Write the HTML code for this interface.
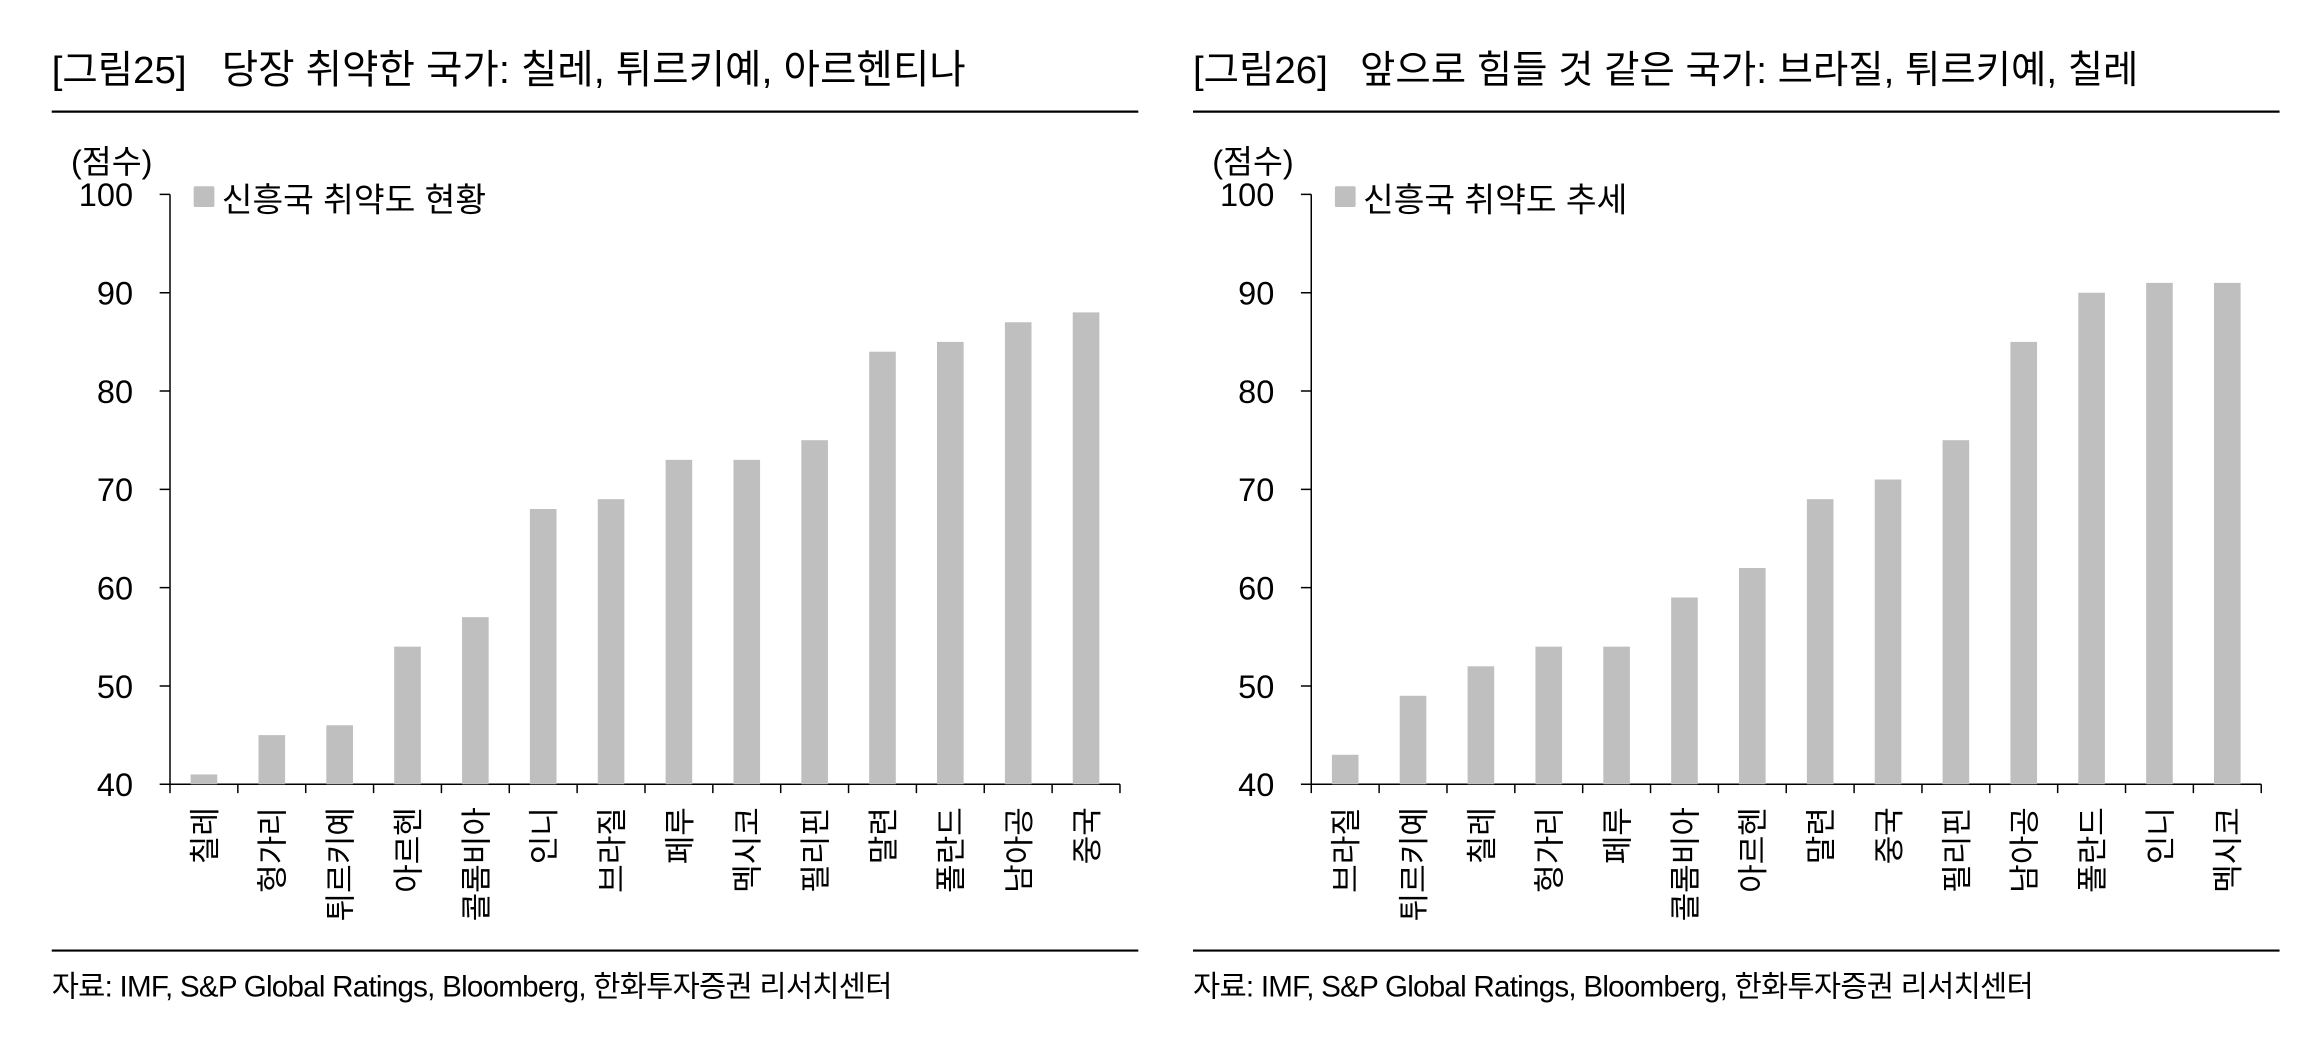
<!DOCTYPE html>
<html><head><meta charset="utf-8"><style>
html,body{margin:0;padding:0;background:#fff;}
svg{display:block;}
text{font-family:"Liberation Sans","Noto Sans CJK KR",sans-serif;fill:#000;}
.t{font-size:22px;text-anchor:end;}
.c{font-size:21px;text-anchor:end;}
</style></head><body>
<svg width="2318" height="1056" viewBox="0 0 1568 714.3" xmlns="http://www.w3.org/2000/svg">
<defs>
<g id="frame">
 <line x1="35" y1="75.5" x2="770" y2="75.5" stroke="#000" stroke-width="1.5"/>
 <text x="48" y="117" font-size="22">(점수)</text>
 <path d="M108 530.5H115M108 464H115M108 397.5H115M108 331H115M108 264.5H115M108 198H115M108 131.5H115M115 131.5V530.5H757.6M115 530.5v6M160.9 530.5v6M206.8 530.5v6M252.7 530.5v6M298.6 530.5v6M344.5 530.5v6M390.4 530.5v6M436.3 530.5v6M482.2 530.5v6M528.1 530.5v6M574 530.5v6M619.9 530.5v6M665.8 530.5v6M711.7 530.5v6M757.6 530.5v6" stroke="#000" stroke-width="1" fill="none"/>
 <text class="t" x="90" y="538.5">40</text>
 <text class="t" x="90" y="472">50</text>
 <text class="t" x="90" y="405.5">60</text>
 <text class="t" x="90" y="339">70</text>
 <text class="t" x="90" y="272.5">80</text>
 <text class="t" x="90" y="206">90</text>
 <text class="t" x="90" y="139.5">100</text>
 <rect x="131" y="126" width="14" height="14" rx="1" fill="#bfbfbf"/>
 <line x1="35" y1="643" x2="770" y2="643" stroke="#000" stroke-width="1.5"/>
 <text x="35" y="674" font-size="20" letter-spacing="-0.5">자료: IMF, S&amp;P Global Ratings, Bloomberg, 한화투자증권 리서치센터</text>
</g>
</defs>

<use href="#frame"/>
<text x="35" y="56" font-size="26">[그림25]</text>
<text x="150" y="56" font-size="26.8">당장 취약한 국가: 칠레, 튀르키예, 아르헨티나</text>
<text x="150" y="143" font-size="22.6">신흥국 취약도 현황</text>
<g fill="#bfbfbf">
<rect x="128.95" y="523.85" width="18" height="6.65"/>
<rect x="174.85" y="497.25" width="18" height="33.25"/>
<rect x="220.75" y="490.6" width="18" height="39.9"/>
<rect x="266.65" y="437.4" width="18" height="93.1"/>
<rect x="312.55" y="417.45" width="18" height="113.05"/>
<rect x="358.45" y="344.3" width="18" height="186.2"/>
<rect x="404.35" y="337.65" width="18" height="192.85"/>
<rect x="450.25" y="311.05" width="18" height="219.45"/>
<rect x="496.15" y="311.05" width="18" height="219.45"/>
<rect x="542.05" y="297.75" width="18" height="232.75"/>
<rect x="587.95" y="237.9" width="18" height="292.6"/>
<rect x="633.85" y="231.25" width="18" height="299.25"/>
<rect x="679.75" y="217.95" width="18" height="312.55"/>
<rect x="725.65" y="211.3" width="18" height="319.2"/>
</g>
<text class="c" transform="translate(146,546) rotate(-90)">칠레</text>
<text class="c" transform="translate(191.9,546) rotate(-90)">헝가리</text>
<text class="c" transform="translate(237.8,546) rotate(-90)">튀르키예</text>
<text class="c" transform="translate(283.7,546) rotate(-90)">아르헨</text>
<text class="c" transform="translate(329.6,546) rotate(-90)">콜롬비아</text>
<text class="c" transform="translate(375.5,546) rotate(-90)">인니</text>
<text class="c" transform="translate(421.4,546) rotate(-90)">브라질</text>
<text class="c" transform="translate(467.3,546) rotate(-90)">페루</text>
<text class="c" transform="translate(513.2,546) rotate(-90)">멕시코</text>
<text class="c" transform="translate(559.1,546) rotate(-90)">필리핀</text>
<text class="c" transform="translate(605,546) rotate(-90)">말련</text>
<text class="c" transform="translate(650.9,546) rotate(-90)">폴란드</text>
<text class="c" transform="translate(696.8,546) rotate(-90)">남아공</text>
<text class="c" transform="translate(742.7,546) rotate(-90)">중국</text>

<g transform="translate(772,0)">
<use href="#frame"/>
<text x="35" y="56" font-size="26">[그림26]</text>
<text x="148" y="56" font-size="26">앞으로 힘들 것 같은 국가: 브라질, 튀르키예, 칠레</text>
<text x="150" y="143" font-size="22.6">신흥국 취약도 추세</text>
<g fill="#bfbfbf">
<rect x="128.95" y="510.55" width="18" height="19.95"/>
<rect x="174.85" y="470.65" width="18" height="59.85"/>
<rect x="220.75" y="450.7" width="18" height="79.8"/>
<rect x="266.65" y="437.4" width="18" height="93.1"/>
<rect x="312.55" y="437.4" width="18" height="93.1"/>
<rect x="358.45" y="404.15" width="18" height="126.35"/>
<rect x="404.35" y="384.2" width="18" height="146.3"/>
<rect x="450.25" y="337.65" width="18" height="192.85"/>
<rect x="496.15" y="324.35" width="18" height="206.15"/>
<rect x="542.05" y="297.75" width="18" height="232.75"/>
<rect x="587.95" y="231.25" width="18" height="299.25"/>
<rect x="633.85" y="198" width="18" height="332.5"/>
<rect x="679.75" y="191.35" width="18" height="339.15"/>
<rect x="725.65" y="191.35" width="18" height="339.15"/>
</g>
<text class="c" transform="translate(146,546) rotate(-90)">브라질</text>
<text class="c" transform="translate(191.9,546) rotate(-90)">튀르키예</text>
<text class="c" transform="translate(237.8,546) rotate(-90)">칠레</text>
<text class="c" transform="translate(283.7,546) rotate(-90)">헝가리</text>
<text class="c" transform="translate(329.6,546) rotate(-90)">페루</text>
<text class="c" transform="translate(375.5,546) rotate(-90)">콜롬비아</text>
<text class="c" transform="translate(421.4,546) rotate(-90)">아르헨</text>
<text class="c" transform="translate(467.3,546) rotate(-90)">말련</text>
<text class="c" transform="translate(513.2,546) rotate(-90)">중국</text>
<text class="c" transform="translate(559.1,546) rotate(-90)">필리핀</text>
<text class="c" transform="translate(605,546) rotate(-90)">남아공</text>
<text class="c" transform="translate(650.9,546) rotate(-90)">폴란드</text>
<text class="c" transform="translate(696.8,546) rotate(-90)">인니</text>
<text class="c" transform="translate(742.7,546) rotate(-90)">멕시코</text>
</g>
</svg>
</body></html>
